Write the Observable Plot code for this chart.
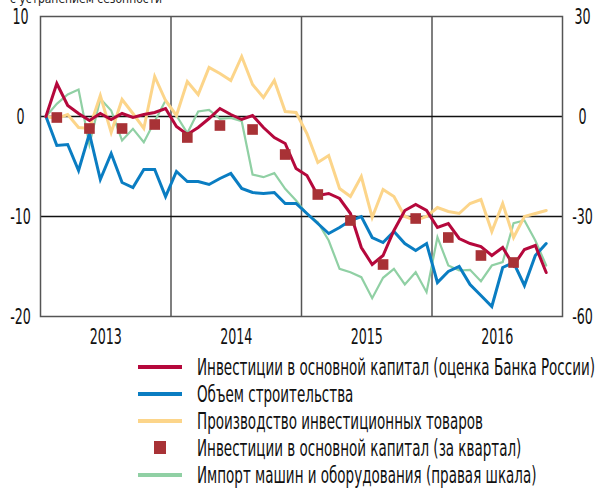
<!DOCTYPE html>
<html><head><meta charset="utf-8">
<script src="https://cdn.jsdelivr.net/npm/d3@7"></script>
<script src="https://cdn.jsdelivr.net/npm/@observablehq/plot@0.6"></script>
<style>
body{margin:0;background:#fff;font-family:"DejaVu Sans Condensed","DejaVu Sans",sans-serif;}
#wrap{position:relative;width:596px;height:489px;overflow:hidden;}
#sub{position:absolute;left:10px;top:-9px;font-size:13px;color:#222;white-space:nowrap;transform-origin:left center;}
#chart{position:absolute;left:0;top:0;}
#legend{position:absolute;left:138px;top:354px;}
.row{height:26.8px;display:flex;align-items:center;font-size:23px;color:#111;white-space:nowrap;}
.row span{display:inline-block;transform-origin:left center;}
.sw{width:44px;flex:none;display:flex;justify-content:center;align-items:center;margin-right:15px;}
.ln{width:44px;height:4px;}
.sq{width:12px;height:13px;}
</style></head><body>
<div id="wrap">
<div id="sub">с устранением сезонности</div>
<div id="chart"></div>
<div id="legend"></div>
</div>
<script>
const years = ["2013", "2014", "2015", "2016"];
// monthly, Jan 2013 .. Nov 2016 (left axis, %)
const investCB = [0, 3.3, 1.1, 0.3, -0.4, 0.3, -0.3, 0.3, -0.1, 0.2, 0.4, 0.8, -1.0, -1.8, -1.1, -0.2, 0.8, 0.2, -0.3, 0.1, -1.1, -2.1, -2.7, -5.2, -5.9, -7.9, -7.7, -8.2, -9.7, -13.1, -14.8, -13.9, -11.4, -9.4, -8.8, -9.4, -11.1, -10.7, -12.2, -12.7, -13.0, -13.9, -13.1, -14.9, -13.3, -12.9, -15.6];
const construction = [0, -2.9, -2.8, -5.4, -1.7, -6.3, -3.7, -6.6, -7.1, -5.3, -5.3, -8.0, -5.5, -6.5, -6.5, -6.8, -6.2, -5.7, -7.2, -7.6, -7.7, -7.6, -8.7, -8.7, -9.7, -10.7, -11.7, -11.1, -10.4, -10.0, -12.1, -12.6, -11.5, -12.7, -13.4, -12.7, -16.6, -15.5, -15.0, -16.8, -17.9, -19.0, -15.1, -14.6, -16.9, -13.9, -12.7];
const invGoods = [0, -0.2, 0.2, -1.1, -1.2, 2.1, -1.6, 1.7, 0.3, -1.2, 4.0, 1.6, 0.1, 3.5, 2.2, 4.9, 4.3, 3.6, 6.0, 3.2, 1.9, 3.6, 0.5, 0.4, -1.7, -4.6, -3.9, -7.2, -8.0, -6.0, -10.1, -7.3, -8.0, -10.0, -10.4, -10.0, -9.1, -9.5, -9.7, -8.7, -8.3, -11.5, -8.7, -12.1, -10.0, -9.7, -9.4];
// right axis
const imports = [0, 3.8, 6.6, 8.1, -8.4, 5.3, 1.8, -7.2, -3.7, -7.7, -1.4, 4.8, 0.3, -5.0, 1.5, 2.0, -0.7, -0.4, -1.4, -17.4, -18.2, -17.0, -21.7, -25.2, -29.2, -31.7, -37.2, -45.7, -46.7, -48.2, -54.5, -48.4, -45.7, -50.4, -46.7, -52.7, -36.2, -44.7, -46.2, -46.0, -49.4, -44.7, -43.7, -32.0, -31.2, -37.2, -44.7];
// quarterly, Q1 2013 .. Q3 2016 (plotted at middle month)
const investQ = [-0.1, -1.2, -1.2, -0.8, -2.1, -0.9, -1.3, -3.8, -7.8, -10.4, -14.8, -10.2, -12.1, -13.9, -14.6];
const leftTicks = [10, 0, -10, -20];
const rightRatio = 3;

const labels = [
  "Инвестиции в основной капитал (оценка Банка России)",
  "Объем строительства",
  "Производство инвестиционных товаров",
  "Инвестиции в основной капитал (за квартал)",
  "Импорт машин и оборудования (правая шкала)"
];
const colors = ["#b5083c", "#0a7dc2", "#fcd58a", "#a83236", "#90d0a4"];

const monthly = a => a.map((v, i) => ({x: i + 0.5, v}));
const quarterly = investQ.map((v, q) => ({x: q * 3 + 1.5, v}));
const font = '"DejaVu Sans Condensed","DejaVu Sans",sans-serif';
const squeeze = 0.64;
const lineOpts = {strokeLinejoin: "miter", strokeMiterlimit: 6};

const chart = Plot.plot({
  width: 596, height: 348,
  marginTop: 16, marginBottom: 32, marginLeft: 40, marginRight: 34,
  x: {domain: [0, 48]},
  y: {domain: [-20, 10]},
  style: {fontFamily: font, fontSize: "22px", color: "#111", background: "transparent"},
  marks: [
    Plot.ruleX([12, 24, 36], {stroke: "#555", strokeWidth: 1.5}),
    Plot.ruleY([0, -10], {stroke: "#111", strokeWidth: 1.5}),
    Plot.line(monthly(imports), {x: "x", y: d => d.v / rightRatio, stroke: colors[4], strokeWidth: 2.2, ...lineOpts}),
    Plot.line(monthly(invGoods), {x: "x", y: "v", stroke: colors[2], strokeWidth: 3, ...lineOpts}),
    Plot.line(monthly(construction), {x: "x", y: "v", stroke: colors[1], strokeWidth: 3, ...lineOpts}),
    Plot.line(monthly(investCB), {x: "x", y: "v", stroke: colors[0], strokeWidth: 3, ...lineOpts}),
    Plot.dot(quarterly, {x: "x", y: "v", symbol: "square", r: 6, fill: colors[3]}),
    Plot.frame({stroke: "#555", strokeWidth: 1.5}),
    Plot.axisY({anchor: "left", ticks: leftTicks, tickSize: 0, tickPadding: 20, textAnchor: "middle", tickFormat: d => String(d), label: null}),
    Plot.axisY({anchor: "right", ticks: leftTicks, tickSize: 0, tickPadding: 20, textAnchor: "middle", tickFormat: d => String(d * rightRatio), label: null}),
    Plot.axisX({ticks: [6, 18, 30, 42], tickSize: 0, tickPadding: 12, tickFormat: d => years[(d - 6) / 12], label: null, fontSize: 22})
  ]
});
document.getElementById("chart").appendChild(chart);

// condense tick labels horizontally around their anchor
chart.querySelectorAll('g[aria-label$="tick label"] text').forEach(t => {
  const x = +t.getAttribute("x") || 0, y = +t.getAttribute("y") || 0;
  const tr = t.getAttribute("transform") || "";
  t.setAttribute("transform", `${tr} translate(${x},${y}) scale(${squeeze},1) translate(${-x},${-y})`);
});

const legend = document.getElementById("legend");
const spans = [];
labels.forEach((t, k) => {
  const row = document.createElement("div");
  row.className = "row";
  const sw = document.createElement("div");
  sw.className = "sw";
  const mark = document.createElement("div");
  mark.className = k === 3 ? "sq" : "ln";
  mark.style.background = colors[k];
  sw.appendChild(mark);
  const span = document.createElement("span");
  span.textContent = t;
  row.appendChild(sw);
  row.appendChild(span);
  legend.appendChild(row);
  spans.push(span);
});
const s = 398 / spans[0].getBoundingClientRect().width;
spans.forEach(sp => sp.style.transform = `scaleX(${s})`);
const sub = document.getElementById("sub");
sub.style.transform = `scaleX(${152 / sub.getBoundingClientRect().width})`;
</script>
</body></html>
